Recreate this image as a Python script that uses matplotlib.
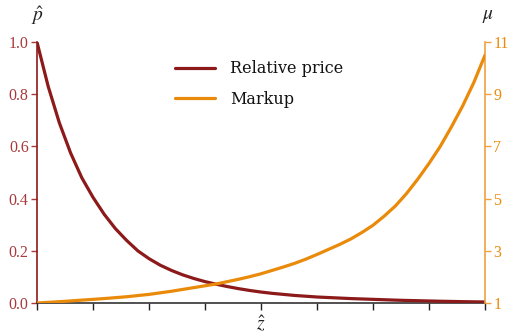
import matplotlib
matplotlib.use("Agg")
import matplotlib.pyplot as plt

plt.rcParams["font.family"] = ["DejaVu Serif"]
plt.rcParams["mathtext.fontset"] = "stix"

# z-hat, normalised to [0, 1]
z = [i / 40 for i in range(41)]

# Relative price p-hat (left axis)
price = [1.0, 0.83, 0.69, 0.575, 0.48, 0.405, 0.34, 0.285, 0.24, 0.20,
         0.17, 0.145, 0.125, 0.108, 0.094, 0.082, 0.072, 0.063, 0.055, 0.048,
         0.042, 0.037, 0.033, 0.029, 0.026, 0.023, 0.021, 0.019, 0.017, 0.0155,
         0.014, 0.0125, 0.011, 0.0098, 0.0088, 0.0078, 0.0068, 0.006, 0.0052,
         0.0045, 0.004]

# Markup mu (right axis)
markup = [1.0, 1.025, 1.05, 1.08, 1.11, 1.14, 1.17, 1.205, 1.24, 1.285,
          1.33, 1.39, 1.45, 1.52, 1.59, 1.66, 1.73, 1.82, 1.91, 2.01,
          2.12, 2.25, 2.38, 2.52, 2.68, 2.86, 3.05, 3.24, 3.45, 3.70,
          3.98, 4.33, 4.72, 5.20, 5.75, 6.35, 7.00, 7.75, 8.55, 9.45,
          10.5]

left_ticks = [0.0, 0.2, 0.4, 0.6, 0.8, 1.0]
left_labels = ["0.0", "0.2", "0.4", "0.6", "0.8", "1.0"]
right_ticks = [1, 3, 5, 7, 9, 11]
right_labels = ["1", "3", "5", "7", "9", "11"]
x_ticks = [i / 8 for i in range(9)]

RED = "#8c1a1a"
RED_LIGHT = "#a83a3c"
ORANGE = "#ea8a0a"
ORANGE_LIGHT = "#f0a040"
TICK_FONT = ["Liberation Serif", "DejaVu Serif"]

fig = plt.figure(figsize=(5.08, 3.35), dpi=100)
ax = fig.add_axes([0.0728, 0.0955, 0.882, 0.779])
ax2 = ax.twinx()

l1, = ax.plot(z, price, color=RED, lw=2.3, solid_capstyle="round",
              label="Relative price", zorder=3)
l2, = ax2.plot(z, markup, color=ORANGE, lw=2.3, solid_capstyle="round",
               label="Markup", zorder=3)

ax.set_xlim(0, 1)
ax.set_ylim(0, 1)
ax2.set_ylim(1, 11)

ax.set_xticks(x_ticks)
ax.set_xticklabels([])
ax.set_yticks(left_ticks)
ax.set_yticklabels(left_labels, family=TICK_FONT, fontsize=11.5)
ax2.set_yticks(right_ticks)
ax2.set_yticklabels(right_labels, family=TICK_FONT, fontsize=11.5)

for a in (ax, ax2):
    a.spines["top"].set_visible(False)
ax.spines["right"].set_visible(False)
ax2.spines["left"].set_visible(False)
ax2.spines["bottom"].set_visible(False)
ax.spines["left"].set_color(RED)
ax.spines["left"].set_linewidth(1.2)
ax2.spines["right"].set_color(ORANGE_LIGHT)
ax2.spines["right"].set_linewidth(1.2)
ax.spines["bottom"].set_color("#333333")
ax.spines["bottom"].set_linewidth(1.2)

ax.tick_params(axis="y", colors=RED_LIGHT, length=4, width=1, pad=2)
ax.tick_params(axis="x", colors="#222222", length=5, width=1, direction="out")
ax2.tick_params(axis="y", colors=ORANGE_LIGHT, length=4, width=1, pad=2)
for lab in ax.get_yticklabels():
    lab.set_color(RED_LIGHT)
for lab in ax2.get_yticklabels():
    lab.set_color(ORANGE)

fig.text(37 / 508, 1 - 16 / 335, r"$\hat{p}$", ha="center", va="center",
         fontsize=14, color="#222222")
fig.text(488 / 508, 1 - 16 / 335, r"$\mu$", ha="center", va="center",
         fontsize=14, color="#222222")
fig.text(261 / 508, 1 - 324 / 335, r"$\hat{z}$", ha="center", va="center",
         fontsize=14, color="#222222")

leg = ax.legend(handles=[l1, l2], loc="upper left",
                bbox_to_anchor=(0.277, 0.985), frameon=False, fontsize=11.5,
                handlelength=2.5, handletextpad=0.9, labelspacing=0.85)
for t in leg.get_texts():
    t.set_color("#111111")

fig.savefig("out.png", dpi=100)
